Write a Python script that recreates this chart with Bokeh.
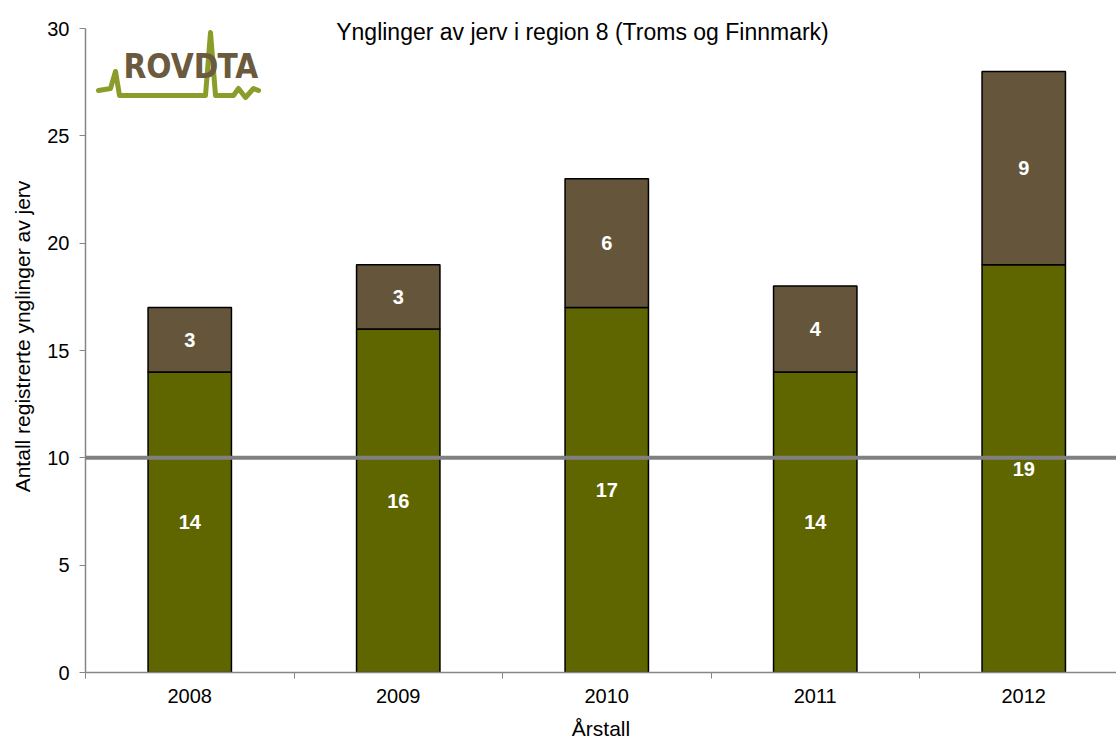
from bokeh.plotting import figure
from bokeh.models import Range1d, FixedTicker, Span, Label, ColumnDataSource, LabelSet
from bokeh.embed import file_html
from bokeh.resources import INLINE
from bokeh.core.properties import value

# ---- data ----
years = ["2008", "2009", "2010", "2011", "2012"]
base_counts = [14, 16, 17, 14, 19]
extra_counts = [3, 3, 6, 4, 9]
reference_level = 10
y_ticks = [0, 5, 10, 15, 20, 25, 30]
y_max = 30
title_text = "Ynglinger av jerv i region 8 (Troms og Finnmark)"
x_title = "Årstall"
y_title = "Antall registrerte ynglinger av jerv"

FONT = "Liberation Sans"
GREEN = "#5f6600"
BROWN = "#65563b"
AXIS_GREY = "#868686"

n = len(years)
xs = list(range(n))
tops = [b + e for b, e in zip(base_counts, extra_counts)]

# canvas geometry (pixels)
W, H = 1116, 743
LEFT, BOTTOM_PX, TOP30_PX = 85, 672, 28
UNIT_X = 208.5
UNIT_Y = (BOTTOM_PX - TOP30_PX) / y_max

def dx(px):
    return (px - LEFT) / UNIT_X - 0.5
def dy(py):
    return (BOTTOM_PX - py) / UNIT_Y

p = figure(width=W, height=H, output_backend="svg", toolbar_location=None,
           x_range=Range1d(-0.5, dx(W)), y_range=Range1d(0, dy(0)),
           min_border_left=LEFT, min_border_right=0, min_border_top=0,
           min_border_bottom=H - BOTTOM_PX)
p.outline_line_color = None
p.xgrid.visible = False
p.ygrid.visible = False
p.background_fill_color = "white"
p.border_fill_color = "white"

src = ColumnDataSource(dict(
    x=xs, base=base_counts, extra=extra_counts, top=tops,
    base_mid=[b / 2 for b in base_counts],
    extra_mid=[b + e / 2 for b, e in zip(base_counts, extra_counts)],
    base_lbl=[str(b) for b in base_counts],
    extra_lbl=[str(e) for e in extra_counts],
))

p.vbar(x="x", width=0.40, bottom=0, top="base", source=src,
       fill_color=GREEN, line_color="black", line_width=1.5)
p.vbar(x="x", width=0.40, bottom="base", top="top", source=src,
       fill_color=BROWN, line_color="black", line_width=1.5)

p.add_layout(Span(location=reference_level, dimension="width",
                  line_color="#808080", line_width=4))

for ycol, tcol in (("base_mid", "base_lbl"), ("extra_mid", "extra_lbl")):
    p.add_layout(LabelSet(x="x", y=ycol, text=tcol, source=src,
                          text_color="white", text_font=value(FONT),
                          text_font_size="20px", text_font_style="bold",
                          text_align="center", text_baseline="middle"))

# axes
xa = p.xaxis[0]
xa.ticker = FixedTicker(ticks=xs, minor_ticks=[i - 0.5 for i in range(n + 1)])
xa.major_label_overrides = {i: y for i, y in enumerate(years)}
xa.major_tick_out = 0
xa.major_tick_in = 0
xa.minor_tick_out = 6
xa.minor_tick_in = 0
xa.minor_tick_line_color = AXIS_GREY
xa.axis_line_color = AXIS_GREY
xa.axis_line_width = 1.5
xa.major_label_text_font = FONT
xa.major_label_text_font_size = "20px"
xa.major_label_text_color = "black"
xa.major_label_standoff = 10
xa.axis_label = x_title
xa.axis_label_text_font = FONT
xa.axis_label_text_font_size = "21px"
xa.axis_label_text_font_style = "normal"
xa.axis_label_text_color = "black"
xa.axis_label_standoff = 11

ya = p.yaxis[0]
ya.ticker = FixedTicker(ticks=y_ticks)
ya.bounds = (0, y_max)
ya.minor_tick_line_color = None
ya.major_tick_out = 6
ya.major_tick_in = 0
ya.major_tick_line_color = AXIS_GREY
ya.axis_line_color = AXIS_GREY
ya.axis_line_width = 1.5
ya.major_label_text_font = FONT
ya.major_label_text_font_size = "20px"
ya.major_label_text_color = "black"
ya.major_label_standoff = 10
ya.axis_label = y_title
ya.axis_label_text_font = FONT
ya.axis_label_text_font_size = "21px"
ya.axis_label_text_font_style = "normal"
ya.axis_label_text_color = "black"
ya.axis_label_standoff = 10

# title placed inside the top of the plot area
p.add_layout(Label(x=dx(582), y=dy(31), text=title_text, text_align="center",
                   text_baseline="middle", text_font=FONT,
                   text_font_size="23px", text_color="black"))

# decorative ROVDATA logo
LOGO_LINE_PX = [(98, 90), (110, 88), (115, 71), (119, 95), (205, 95), (210, 32),
                (215, 95), (233, 95), (238, 88), (245, 97), (253, 88), (258, 90)]
p.line([dx(a) for a, b in LOGO_LINE_PX], [dy(b) for a, b in LOGO_LINE_PX],
       line_color="#8c9c2a", line_width=5, line_join="round", line_cap="round")
for txt, left in (("ROVD", 123), ("TA", 217)):
    p.add_layout(Label(x=dx(left), y=dy(66), text=txt, text_align="left",
                       text_baseline="middle", text_font="DejaVu Sans Condensed",
                       text_font_size="33px", text_font_style="bold", text_color="#6b5a3e"))

open("out.html", "w").write(file_html(p, INLINE))
